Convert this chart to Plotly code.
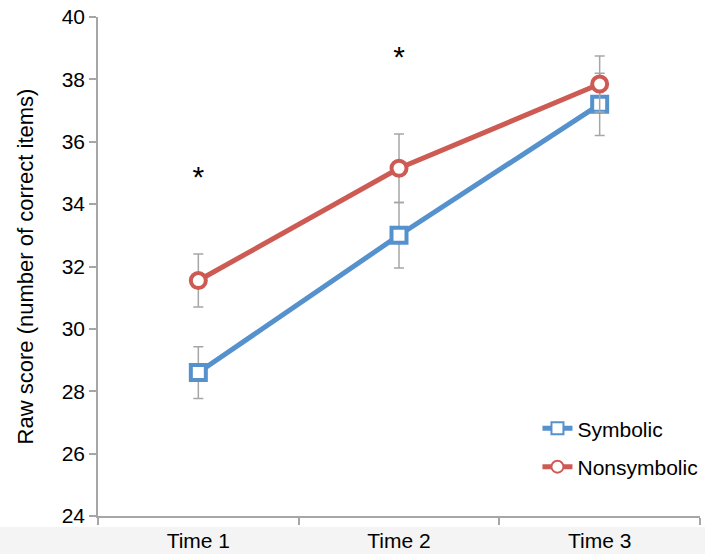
import plotly.graph_objects as go

categories = ["Time 1", "Time 2", "Time 3"]
symbolic = [28.6, 33.0, 37.2]
symbolic_err = [0.83, 1.05, 1.0]
nonsymbolic = [31.55, 35.15, 37.85]
nonsymbolic_err = [0.85, 1.1, 0.9]
star_x = ["Time 1", "Time 2"]
star_y = [34.8, 38.65]
y_ticks = [24, 26, 28, 30, 32, 34, 36, 38, 40]

BLUE = "#5591CD"
RED = "#CD5B54"
GRAY = "#A6A6A6"
FONT = "Liberation Sans, Arial"

fig = go.Figure()
fig.add_trace(go.Scatter(
    x=categories, y=symbolic, name="Symbolic", mode="lines+markers", legendgroup="a",
    line=dict(color=BLUE, width=5),
    marker=dict(symbol="square", size=15, color="white", line=dict(color=BLUE, width=4)),
    error_y=dict(type="data", array=symbolic_err, color=GRAY, thickness=1.5, width=5),
))
fig.add_trace(go.Scatter(
    x=categories, y=nonsymbolic, name="Nonsymbolic", mode="lines+markers", legendgroup="b",
    line=dict(color=RED, width=5),
    marker=dict(symbol="circle", size=15, color="white", line=dict(color=RED, width=4)),
    error_y=dict(type="data", array=nonsymbolic_err, color=GRAY, thickness=1.5, width=5),
))
fig.add_trace(go.Scatter(
    x=star_x, y=star_y, mode="text", text=["*"] * len(star_x),
    textfont=dict(size=30, color="black", family=FONT),
    showlegend=False, hoverinfo="skip",
))

fig.add_shape(type="rect", xref="paper", yref="paper", x0=-0.3, x1=1.2, y0=-0.2, y1=-0.022,
              fillcolor="#F4F4F4", line=dict(width=0), layer="below")

fig.update_layout(
    width=730, height=554,
    margin=dict(l=98, r=30, t=17, b=38),
    paper_bgcolor="white", plot_bgcolor="white",
    font=dict(family=FONT, size=21, color="black"),
    showlegend=True,
    legend=dict(x=0.730, y=0.216, xanchor="left", yanchor="top",
                bgcolor="rgba(0,0,0,0)", font=dict(size=21, family=FONT), tracegroupgap=8,
                itemsizing="constant"),
)
fig.update_xaxes(
    type="category", range=[-0.5, 2.5], automargin=False,
    showline=True, linecolor=GRAY, linewidth=1.5,
    ticks="outside", tickson="boundaries", ticklen=7, tickcolor=GRAY, tickwidth=1.5,
    tickfont=dict(size=21, family=FONT), ticklabelstandoff=5,
    showgrid=False, zeroline=False,
)
fig.update_yaxes(
    range=[24, 40], tickvals=y_ticks, automargin=False, ticklabeloverflow="allow",
    showline=True, linecolor=GRAY, linewidth=1.5,
    ticks="outside", ticklen=7, tickcolor=GRAY, tickwidth=1.5,
    tickfont=dict(size=21, family=FONT),
    showgrid=False, zeroline=False,
    title=dict(text="Raw score (number of correct items)", font=dict(size=22, family=FONT), standoff=22),
)

fig.write_html(
    "out.html",
    config={"displayModeBar": False},
    post_script="document.body.style.margin='0';document.body.style.overflow='hidden';",
)
